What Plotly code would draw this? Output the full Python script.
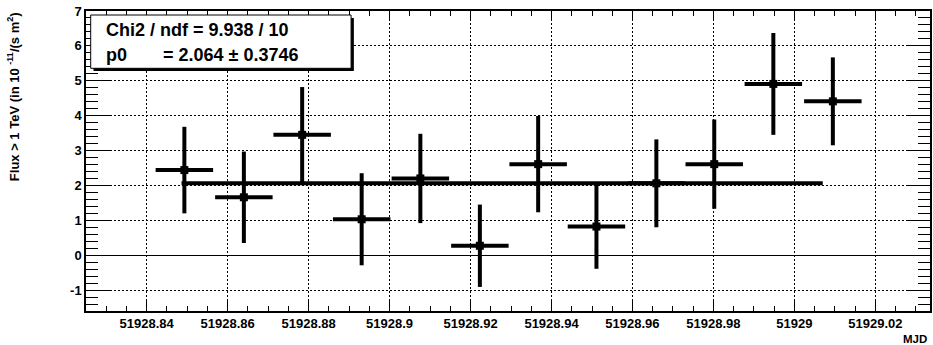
import plotly.graph_objects as go

# ---------------- data ----------------
mjd = [51928.8493, 51928.8640, 51928.8784, 51928.8931, 51928.9076, 51928.9223,
       51928.9367, 51928.9511, 51928.9659, 51928.9802, 51928.9948, 51929.0095]
mjd_err = [0.0071, 0.0071, 0.0071, 0.0071, 0.0071, 0.0071,
           0.0071, 0.0071, 0.0071, 0.0071, 0.0071, 0.0071]
flux = [2.44, 1.66, 3.45, 1.03, 2.20, 0.27, 2.61, 0.82, 2.06, 2.61, 4.91, 4.41]
flux_err = [1.24, 1.31, 1.37, 1.32, 1.28, 1.18, 1.38, 1.21, 1.26, 1.28, 1.46, 1.26]

fit_p0 = 2.064
fit_p0_err = 0.3746
fit_chi2 = 9.938
fit_ndf = 10
fit_range = [51928.8486, 51929.0070]

x_tickvals = [51928.84, 51928.86, 51928.88, 51928.90, 51928.92, 51928.94,
              51928.96, 51928.98, 51929.00, 51929.02]
x_ticktext = ["51928.84", "51928.86", "51928.88", "51928.9", "51928.92", "51928.94",
              "51928.96", "51928.98", "51929", "51929.02"]
y_tickvals = [-1, 0, 1, 2, 3, 4, 5, 6, 7]
y_ticktext = ["-1", "0", "1", "2", "3", "4", "5", "6", "7"]

x_title = "MJD"
y_title = "Flux > 1 TeV (in 10 <sup>-11</sup>/(s m<sup>2</sup>)"

# ---------------- layout geometry ----------------
W, H = 933, 345
L, R, T, B = 86, 1, 11, 34
PW, PH = W - L - R, H - T - B

def px(x):
    return (x - L) / PW

def py(y):
    return (H - B - y) / PH

FONT = "Liberation Sans, Arial, sans-serif"

fig = go.Figure()

fig.add_trace(go.Scatter(
    x=mjd, y=flux, mode="markers",
    marker=dict(symbol="square", size=8, color="black"),
    error_x=dict(type="data", array=mjd_err, thickness=4, width=0, color="black"),
    error_y=dict(type="data", array=flux_err, thickness=4, width=0, color="black"),
    showlegend=False, hoverinfo="skip"))

fig.add_trace(go.Scatter(
    x=fit_range, y=[fit_p0, fit_p0], mode="lines",
    line=dict(color="black", width=4), showlegend=False, hoverinfo="skip"))

axis_common = dict(
    showline=True, linecolor="black", linewidth=1.5, mirror="ticks",
    ticks="inside", tickcolor="black", tickwidth=1,
    showgrid=True, gridcolor="black", gridwidth=1, griddash="1.5px,2.5px",
    tickfont=dict(family=FONT, size=13, color="black", weight="bold"),
)

fig.update_layout(
    width=W, height=H,
    margin=dict(l=L, r=R, t=T, b=B, pad=0),
    paper_bgcolor="white", plot_bgcolor="white",
    xaxis=dict(range=[51928.825, 51929.0335], tickmode="array",
               tickvals=x_tickvals, ticktext=x_ticktext, ticklen=10,
               zeroline=False,
               minor=dict(tickmode="linear", tick0=51928.84, dtick=0.005,
                          ticklen=5, ticks="inside", tickcolor="black", showgrid=False),
               **axis_common),
    yaxis=dict(range=[-1.6, 7.0], tickmode="array",
               tickvals=y_tickvals, ticktext=y_ticktext, ticklen=24,
               zeroline=True, zerolinecolor="black", zerolinewidth=1,
               minor=dict(tickmode="linear", tick0=0, dtick=0.2,
                          ticklen=12, ticks="inside", tickcolor="black", showgrid=False),
               **axis_common),
)

# stats box (shadow + box)
fig.add_shape(type="rect", xref="paper", yref="paper",
              x0=px(93.5), x1=px(354.5), y0=py(71), y1=py(18),
              fillcolor="black", line=dict(width=0), layer="above")
fig.add_shape(type="rect", xref="paper", yref="paper",
              x0=px(90.7), x1=px(351.7), y0=py(68.3), y1=py(15),
              fillcolor="white", line=dict(color="black", width=1), layer="above")

box_font = dict(family=FONT, size=18, color="black", weight="bold")
fig.add_annotation(xref="paper", yref="paper", x=px(104), y=py(30),
                   xanchor="left", yanchor="middle", showarrow=False,
                   text=f"Chi2 / ndf = {fit_chi2:.3f} / {fit_ndf}", font=box_font)
fig.add_annotation(xref="paper", yref="paper", x=px(104), y=py(54.5),
                   xanchor="left", yanchor="middle", showarrow=False,
                   text="p0", font=box_font)
fig.add_annotation(xref="paper", yref="paper", x=px(161), y=py(54.5),
                   xanchor="left", yanchor="middle", showarrow=False,
                   text=f"= {fit_p0:.3f} ± {fit_p0_err:.4f}", font=box_font)

# axis titles
fig.add_annotation(xref="paper", yref="paper", x=px(931), y=py(339),
                   xanchor="right", yanchor="middle", showarrow=False,
                   text=x_title, font=dict(family=FONT, size=11.5, color="black", weight="bold"))
fig.add_annotation(xref="paper", yref="paper", x=px(13), y=py(97),
                   xanchor="center", yanchor="middle", showarrow=False, textangle=-90,
                   text=y_title, font=dict(family=FONT, size=13, color="black", weight="bold"))

fig.write_html("out.html")
